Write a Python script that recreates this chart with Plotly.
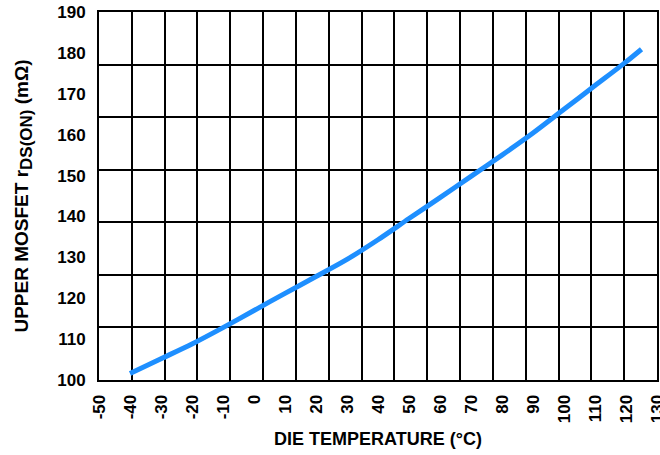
import plotly.graph_objects as go

# Data
temp_c = [-40, -30, -20, -10, 0, 10, 20, 30, 40, 50, 60, 70, 80, 90, 100, 110, 120, 125]
rds_on_mohm = [101.6, 105.2, 108.8, 112.8, 117.0, 121.2, 125.3, 129.5, 134.3, 139.5,
               144.6, 149.8, 155.0, 160.4, 166.2, 172.0, 177.8, 180.9]

x_ticks = list(range(-50, 131, 10))
y_ticks = list(range(100, 191, 10))

FONT = "Liberation Sans, Arial, sans-serif"

fig = go.Figure()

# invisible trace to host the grid axes
fig.add_trace(go.Scatter(x=[0, 17], y=[0, 7], xaxis="x2", yaxis="y2",
                         mode="markers", marker=dict(opacity=0), hoverinfo="skip",
                         showlegend=False))

fig.add_trace(go.Scatter(x=temp_c, y=rds_on_mohm, mode="lines",
                         line=dict(color="#1E8FFF", width=5, shape="spline", smoothing=0.8),
                         showlegend=False))

fig.update_layout(
    width=660, height=455,
    margin=dict(l=99, r=3, t=12, b=75),
    paper_bgcolor="white", plot_bgcolor="white",
    font=dict(family=FONT, color="black", size=16, weight="bold"),
    xaxis=dict(range=[-50, 130], tickvals=x_ticks, ticktext=[str(v) for v in x_ticks],
               tickangle=-90, showgrid=False, zeroline=False, automargin=False,
               showline=True, mirror=True, linecolor="black", linewidth=2,
               ticks="", ticklabelstandoff=6, ticklabeloverflow="allow",
               tickfont=dict(size=17, family=FONT, weight="bold"),
               title=dict(text="DIE TEMPERATURE (°C)", standoff=10,
                          font=dict(size=18, family=FONT, weight="bold"))),
    yaxis=dict(range=[100, 190], tickvals=y_ticks, ticktext=[str(v) for v in y_ticks],
               showgrid=False, zeroline=False, automargin=False,
               showline=True, mirror=True, linecolor="black", linewidth=2,
               ticks="", ticklabelstandoff=8, ticklabeloverflow="allow",
               tickfont=dict(size=17, family=FONT, weight="bold"),
               title=dict(text="UPPER MOSFET r<sub><span style='font-size:17px'>DS(ON)</span></sub> (mΩ)",
                          standoff=24,
                          font=dict(size=19, family=FONT, weight="bold"))),
    xaxis2=dict(overlaying="x", range=[0, 17], dtick=1, showgrid=True, automargin=False,
                gridcolor="black", gridwidth=2, showticklabels=False,
                zeroline=False, showline=False, ticks="", side="top"),
    yaxis2=dict(overlaying="y", range=[0, 7], dtick=1, showgrid=True, automargin=False,
                gridcolor="black", gridwidth=2, showticklabels=False,
                zeroline=False, showline=False, ticks="", side="right"),
)

# remove the default page margin so the figure sits at the window's corner
fig.write_html("out.html", config={"displayModeBar": False},
               post_script="document.body.style.margin='0';")
